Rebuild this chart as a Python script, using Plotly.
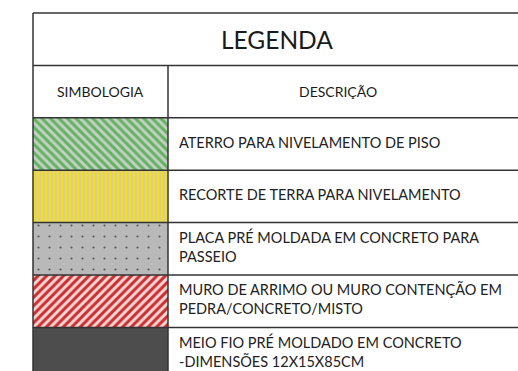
import plotly.graph_objects as go

title_text = "LEGENDA"
header_labels = ["SIMBOLOGIA", "DESCRIÇÃO"]
descriptions = [
    "ATERRO PARA NIVELAMENTO DE PISO",
    "RECORTE DE TERRA PARA NIVELAMENTO",
    "PLACA PRÉ MOLDADA EM CONCRETO PARA<br>PASSEIO",
    "MURO DE ARRIMO OU MURO CONTENÇÃO EM<br>PEDRA/CONCRETO/MISTO",
    "MEIO FIO PRÉ MOLDADO EM CONCRETO<br>-DIMENSÕES 12X15X85CM",
]
pattern_shapes = ["\\", "|", ".", "/", ""]
fg_colors = ["#5cb85a", "#f4e600", "#555555", "#d42a2a", "#4d4d4d"]
bg_colors = ["#cbcbcb", "#dcc9a0", "#b9b9b9", "#e8dada", "#4d4d4d"]
pattern_sizes = [6, 4, 11, 6, 8]
solidities = [0.5, 0.45, 0.03, 0.5, 0.5]

# geometry (pixels / row units)
ROW_PX = 52.4
TOP_PX = 13
X_LEFT = 33
X_DIV = 168
X_RIGHT = 520
W, H = 518, 371

n = len(descriptions)
row_centers = [2.5 + i for i in range(n)]

fig = go.Figure()
for i in range(n):
    pat = dict(shape=pattern_shapes[i], fgcolor=fg_colors[i], bgcolor=bg_colors[i],
               size=pattern_sizes[i], solidity=solidities[i], fillmode="replace",
               fgopacity=1)
    fig.add_trace(go.Bar(
        orientation="h",
        y=[row_centers[i]],
        x=[X_DIV - X_LEFT],
        base=[X_LEFT],
        width=[1],
        marker=dict(color=bg_colors[i], line=dict(width=0), pattern=pat),
        hoverinfo="skip",
        showlegend=False,
    ))

fig.add_trace(go.Scatter(
    x=[X_DIV + 11] * n,
    y=row_centers,
    mode="text",
    text=descriptions,
    textposition="middle right",
    textfont=dict(family="Lato", size=14.5, color="#222222"),
    hoverinfo="skip",
    showlegend=False,
))

annotations = [
    dict(x=(X_LEFT + X_RIGHT) / 2 + 0.5, y=0.5, text=title_text, showarrow=False,
         font=dict(family="Lato", size=24.5, color="#1a1a1a"), xref="x", yref="y"),
    dict(x=(X_LEFT + X_DIV) / 2, y=1.5, text=header_labels[0], showarrow=False,
         font=dict(family="Lato", size=14, color="#1a1a1a"), xref="x", yref="y"),
    dict(x=(X_DIV + X_RIGHT) / 2 - 6, y=1.5, text=header_labels[1], showarrow=False,
         font=dict(family="Lato", size=14, color="#1a1a1a"), xref="x", yref="y"),
]

line_style = dict(color="#333333", width=1.5)
shapes = []
for r in range(0, n + 3):
    shapes.append(dict(type="line", xref="x", yref="y", x0=X_LEFT, x1=X_RIGHT,
                       y0=r, y1=r, line=line_style))
shapes.append(dict(type="line", xref="x", yref="y", x0=X_LEFT, x1=X_LEFT,
                   y0=0, y1=n + 3, line=line_style))
shapes.append(dict(type="line", xref="x", yref="y", x0=X_DIV, x1=X_DIV,
                   y0=1, y1=n + 3, line=line_style))

fig.update_layout(
    width=W, height=H,
    margin=dict(l=0, r=0, t=0, b=0),
    paper_bgcolor="white", plot_bgcolor="white",
    xaxis=dict(range=[0, W], visible=False, fixedrange=True),
    yaxis=dict(range=[(H - TOP_PX) / ROW_PX, -TOP_PX / ROW_PX], visible=False, fixedrange=True),
    shapes=shapes,
    annotations=annotations,
    bargap=0,
)

fig.write_html("out.html", config={"displayModeBar": False, "staticPlot": True},
               post_script="document.body.style.margin='0px';document.body.style.overflow='hidden';")
